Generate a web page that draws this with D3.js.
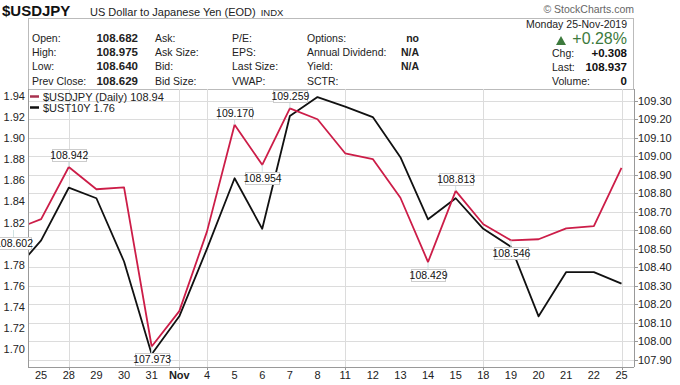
<!DOCTYPE html>
<html><head><meta charset="utf-8">
<script src="https://cdn.jsdelivr.net/npm/d3@7"></script>
<style>
html,body{margin:0;padding:0;background:#fff;}
svg{display:block;font-family:"Liberation Sans",Arial,sans-serif;}
</style></head>
<body>
<svg id="c" width="680" height="385"></svg>
<script>
// ---- data ----
const dates = ["Oct 24","Oct 25","Oct 28","Oct 29","Oct 30","Oct 31","Nov 1","Nov 4","Nov 5","Nov 6","Nov 7","Nov 8","Nov 11","Nov 12","Nov 13","Nov 14","Nov 15","Nov 18","Nov 19","Nov 20","Nov 21","Nov 22","Nov 25"];
const tickLabels = ["","25","28","29","30","31","Nov","4","5","6","7","8","11","12","13","14","15","18","19","20","21","22","25"];
const usdjpy = [108.602,108.661,108.942,108.822,108.832,107.973,108.164,108.593,109.170,108.954,109.259,109.200,109.016,108.985,108.776,108.429,108.813,108.633,108.546,108.552,108.611,108.623,108.937];
const ust10y = [1.773,1.803,1.853,1.843,1.783,1.695,1.731,1.795,1.862,1.814,1.921,1.939,1.930,1.920,1.882,1.823,1.843,1.814,1.797,1.731,1.773,1.773,1.762];
const labelIdx = [0,2,5,8,9,10,15,16,18];
const labelPos = ["below","above","below","above","below","above","below","above","below"];
const gridDates = ["Oct 28","Nov 1","Nov 4","Nov 11","Nov 18","Nov 25"];
const rightTicks = [107.90,108.00,108.10,108.20,108.30,108.40,108.50,108.60,108.70,108.80,108.90,109.00,109.10,109.20,109.30];
const leftTicks = [1.70,1.72,1.74,1.76,1.78,1.80,1.82,1.84,1.86,1.88,1.90,1.92,1.94];
const headerRows = [
  ["Open:","108.682","Ask:","P/E:","Options:","no"],
  ["High:","108.975","Ask Size:","EPS:","Annual Dividend:","N/A"],
  ["Low:","108.640","Bid:","Last Size:","Yield:","N/A"],
  ["Prev Close:","108.629","Bid Size:","VWAP:","SCTR:",""]
];
const rightInfo = [["Chg:","+0.308"],["Last:","108.937"],["Volume:","0"]];

// ---- layout ----
const svg = d3.select("#c");
const L = 28, R = 634, T = 89, B = 367;
const x = d3.scalePoint().domain(dates).range([13.5, 621.5]).padding(0);
const yR = d3.scaleLinear().domain([107.90, 109.30]).range([360, 100.7]);
const yL = d3.scaleLinear().domain([1.70, 1.94]).range([349, 96]);

// header
svg.append("text").attr("x",2).attr("y",16).attr("font-size",15).attr("font-weight","bold").attr("fill","#111").text("$USDJPY");
const sub = svg.append("text").attr("x",90).attr("y",16).attr("font-size",11).attr("fill","#222").text("US Dollar to Japanese Yen (EOD)");
const subEnd = 90 + sub.node().getComputedTextLength();
svg.append("text").attr("x",Math.max(subEnd+5,255)).attr("y",16).attr("font-size",9.5).attr("fill","#222").text("INDX");
svg.append("text").attr("x",634).attr("y",13).attr("text-anchor","end").attr("font-size",10.5).attr("fill","#666").text("\u00A9 StockCharts.com");
svg.append("rect").attr("x",L+0.5).attr("y",18.5).attr("width",R-L-1).attr("height",T-18).attr("fill","none").attr("stroke","#bbb");

const rowY = [42,56,70,85];
headerRows.forEach((r,i)=>{
  const g = svg.append("g").attr("font-size",10.5).attr("fill","#222");
  g.append("text").attr("x",32).attr("y",rowY[i]).text(r[0]);
  g.append("text").attr("x",138).attr("y",rowY[i]).attr("text-anchor","end").attr("font-weight","bold").attr("font-size",11.5).text(r[1]);
  g.append("text").attr("x",155).attr("y",rowY[i]).text(r[2]);
  g.append("text").attr("x",232).attr("y",rowY[i]).text(r[3]);
  g.append("text").attr("x",307).attr("y",rowY[i]).text(r[4]);
  g.append("text").attr("x",419).attr("y",rowY[i]).attr("text-anchor","end").attr("font-weight","bold").text(r[5]);
});
svg.append("text").attr("x",627).attr("y",28).attr("text-anchor","end").attr("font-size",10.5).attr("fill","#222").text("Monday  25-Nov-2019");
svg.append("path").attr("d","M556,45 L561,36 L566,45 Z").attr("fill","#3d7a3d");
svg.append("text").attr("x",627).attr("y",44).attr("text-anchor","end").attr("font-size",16).attr("fill","#3d7a3d").text("+0.28%");
rightInfo.forEach((r,i)=>{
  const yy = [57,71,85][i];
  svg.append("text").attr("x",552).attr("y",yy).attr("font-size",10.5).attr("fill","#222").text(r[0]);
  svg.append("text").attr("x",627).attr("y",yy).attr("text-anchor","end").attr("font-size",11.5).attr("font-weight","bold").attr("fill","#111").text(r[1]);
});

// grid
const grid = svg.append("g").attr("stroke","#dcdcdc").attr("stroke-width",1);
rightTicks.forEach(t=>{
  const yy = Math.round(yR(t))+0.5;
  grid.append("line").attr("x1",L).attr("x2",R).attr("y1",yy).attr("y2",yy);
});
gridDates.forEach(d=>{
  const xx = Math.round(x(d))+0.5;
  grid.append("line").attr("x1",xx).attr("x2",xx).attr("y1",T).attr("y2",B);
});

// axes frame
svg.append("line").attr("x1",L+0.5).attr("x2",L+0.5).attr("y1",T).attr("y2",B).attr("stroke","#999");
svg.append("line").attr("x1",R+0.5).attr("x2",R+0.5).attr("y1",T).attr("y2",B).attr("stroke","#999");
svg.append("line").attr("x1",L).attr("x2",R).attr("y1",B+0.5).attr("y2",B+0.5).attr("stroke","#999");

// right axis
const ra = svg.append("g").attr("font-size",11).attr("fill","#222");
rightTicks.forEach(t=>{
  const yy = Math.round(yR(t))+0.5;
  svg.append("line").attr("x1",R).attr("x2",R+4).attr("y1",yy).attr("y2",yy).attr("stroke","#999");
  ra.append("text").attr("x",638).attr("y",yR(t)+4).text(t.toFixed(2));
});
// left axis
const la = svg.append("g").attr("font-size",11).attr("fill","#222");
leftTicks.forEach(t=>{
  la.append("text").attr("x",25).attr("y",yL(t)+4).attr("text-anchor","end").text(t.toFixed(2));
});
// bottom axis
const ba = svg.append("g").attr("font-size",11).attr("fill","#222");
dates.forEach((d,i)=>{
  if(!tickLabels[i]) return;
  ba.append("text").attr("x",x(d)).attr("y",379).attr("text-anchor","middle")
    .attr("font-weight", tickLabels[i]==="Nov" ? "bold":"normal").text(tickLabels[i]);
});
gridDates.forEach(d=>{
  const xx = Math.round(x(d))+0.5;
  svg.append("line").attr("x1",xx).attr("x2",xx).attr("y1",B).attr("y2",B+3).attr("stroke","#999");
});

// lines
svg.append("clipPath").attr("id","clip").append("rect").attr("x",L+1).attr("y",T).attr("width",R-L-1).attr("height",B-T);
const plot = svg.append("g").attr("clip-path","url(#clip)");
plot.append("path").datum(ust10y)
  .attr("d", d3.line().x((v,i)=>x(dates[i])).y(v=>yL(v)))
  .attr("fill","none").attr("stroke","#111").attr("stroke-width",1.8).attr("stroke-linejoin","round");
plot.append("path").datum(usdjpy)
  .attr("d", d3.line().x((v,i)=>x(dates[i])).y(v=>yR(v)))
  .attr("fill","none").attr("stroke","#cc1d48").attr("stroke-width",1.8).attr("stroke-linejoin","round");

// legend
svg.append("line").attr("x1",30).attr("x2",39).attr("y1",96.5).attr("y2",96.5).attr("stroke","#a8324f").attr("stroke-width",2.5);
svg.append("line").attr("x1",30).attr("x2",39).attr("y1",107.5).attr("y2",107.5).attr("stroke","#111").attr("stroke-width",2.5);
svg.append("text").attr("x",43).attr("y",100.5).attr("font-size",11).attr("fill","#222").text("$USDJPY (Daily) 108.94");
svg.append("text").attr("x",43).attr("y",111.5).attr("font-size",11).attr("fill","#222").text("$UST10Y 1.76");

// data labels
labelIdx.forEach((k,j)=>{
  const px = x(dates[k]), py = yR(usdjpy[k]);
  const txt = usdjpy[k].toFixed(3);
  const w = 34, h = 12;
  const by = labelPos[j]==="above" ? py-6-h : py+7;
  const g = svg.append("g");
  g.append("line").attr("x1",px).attr("x2",px).attr("y1",labelPos[j]==="above"?by+h:by).attr("y2",py).attr("stroke","#cfe3e3").attr("stroke-width",1);
  g.append("rect").attr("x",Math.round(px-w/2)+0.5).attr("y",Math.round(by)+0.5).attr("width",w).attr("height",h)
    .attr("fill","#fff").attr("stroke","#ccc");
  g.append("text").attr("x",px+0.5).attr("y",by+10).attr("text-anchor","middle").attr("font-size",10.5).attr("fill","#111").text(txt);
});
</script>
</body></html>
